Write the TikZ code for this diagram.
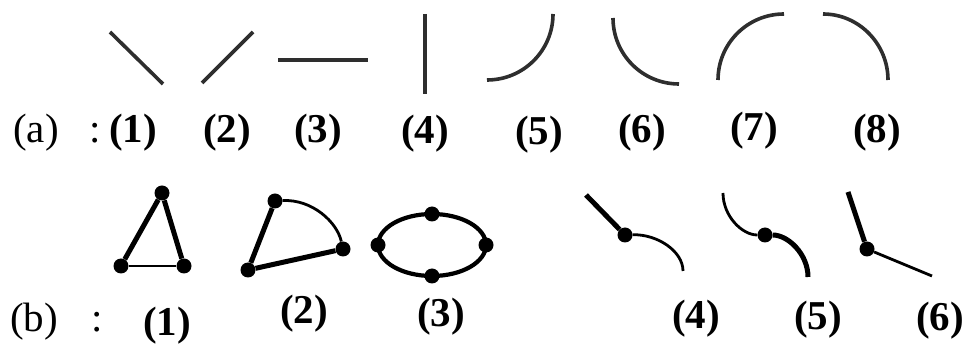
\documentclass[tikz,border=0pt]{standalone}
\usepackage{fontspec}
\setmainfont{Liberation Serif}
\begin{document}
\begin{tikzpicture}[
  x=1pt, y=-1pt,
  font=\fontsize{41}{44}\selectfont,
  tag/.style={inner sep=0pt},
  num/.style={inner sep=0pt, font=\fontsize{41}{44}\selectfont\bfseries},
  seg/.style={draw=black!82, line width=3.6pt},
  heavy/.style={draw=black, line width=5pt},
  lite/.style={draw=black, line width=2.8pt},
  dot/.style={circle, fill=black, inner sep=0pt, minimum size=15pt}
]
  \useasboundingbox (0,0) rectangle (967,344);

  \node[tag] (taga) at (36,133) {(a)};
  \node[tag] (cola) at (95,133) {:};
  \node[num] (a1) at (133,133) {(1)};
  \node[num] (a2) at (227,133) {(2)};
  \node[num] (a3) at (318,133) {(3)};
  \node[num] (a4) at (425,134) {(4)};
  \node[num] (a5) at (539,135) {(5)};
  \node[num] (a6) at (642,133) {(6)};
  \node[num] (a7) at (754,131) {(7)};
  \node[num] (a8) at (877,133) {(8)};

  \coordinate (p1a) at (110,32);  \coordinate (p1b) at (163,84);
  \coordinate (p2a) at (202,83);  \coordinate (p2b) at (253,32);
  \coordinate (p3a) at (278,60);  \coordinate (p3b) at (368,60);
  \coordinate (p4a) at (425,14);  \coordinate (p4b) at (425,94);
  \coordinate (p5a) at (487,80);  \coordinate (p5b) at (553,14);
  \coordinate (p6a) at (613,18);  \coordinate (p6b) at (679,84);
  \coordinate (p7a) at (718,80);  \coordinate (p7b) at (784,14);
  \coordinate (p8a) at (823,14);  \coordinate (p8b) at (888,80);

  \draw[seg] (p1a) -- (p1b);
  \draw[seg] (p2a) -- (p2b);
  \draw[seg] (p3a) -- (p3b);
  \draw[seg] (p4a) -- (p4b);
  \draw[seg] (p5a) .. controls (523.5,80) and (553,50.5) .. (p5b);
  \draw[seg] (p6a) .. controls (613,54.5) and (642.5,84) .. (p6b);
  \draw[seg] (p7a) .. controls (718,43.5) and (747.5,14) .. (p7b);
  \draw[seg] (p8a) .. controls (859,14) and (888,44) .. (p8b);

  \node[tag] (tagb) at (34,322) {(b)};
  \node[tag] (colb) at (97,322) {:};
  \node[num] (b1) at (167,326) {(1)};
  \node[num] (b2) at (304,314) {(2)};
  \node[num] (b3) at (441,317) {(3)};
  \node[num] (b4) at (696,319) {(4)};
  \node[num] (b5) at (818,320) {(5)};
  \node[num] (b6) at (940,321) {(6)};

  \node[dot] (t1) at (162,193) {};
  \node[dot] (t2) at (121,266) {};
  \node[dot] (t3) at (184,266) {};
  \draw[heavy] (t2) -- (t1) -- (t3);
  \draw[lite] (t2) -- (t3);

  \node[dot] (q1) at (275,201) {};
  \node[dot] (q2) at (343,249) {};
  \node[dot] (q3) at (248,270) {};
  \draw[heavy] (q1) -- (q3) -- (q2);
  \draw[lite] (q1) .. controls (312,199) and (337,222) .. (q2);

  \coordinate (e0) at (432,245);
  \draw[line width=4.2pt] (e0) ellipse [x radius=54, y radius=31];
  \node[dot] (e1) at (378,245) {};
  \node[dot] (e2) at (432,214) {};
  \node[dot] (e3) at (486,245) {};
  \node[dot] (e4) at (432,276) {};

  \coordinate (r4a) at (586,195);
  \node[dot] (r4) at (625,235) {};
  \coordinate (r4b) at (683,271);
  \draw[heavy] (r4a) -- (r4);
  \draw[lite] (r4) .. controls (657,234) and (683,251) .. (r4b);

  \coordinate (r5a) at (723,193);
  \node[dot] (r5) at (765,235) {};
  \coordinate (r5b) at (808,277);
  \draw[lite] (r5a) .. controls (723,216) and (742,235) .. (r5);
  \draw[heavy] (r5) .. controls (788,235) and (808,254) .. (r5b);

  \coordinate (r6a) at (848,192);
  \node[dot] (r6) at (867,249) {};
  \coordinate (r6b) at (932,276);
  \draw[heavy] (r6a) -- (r6);
  \draw[lite] (r6) -- (r6b);
\end{tikzpicture}
\end{document}
